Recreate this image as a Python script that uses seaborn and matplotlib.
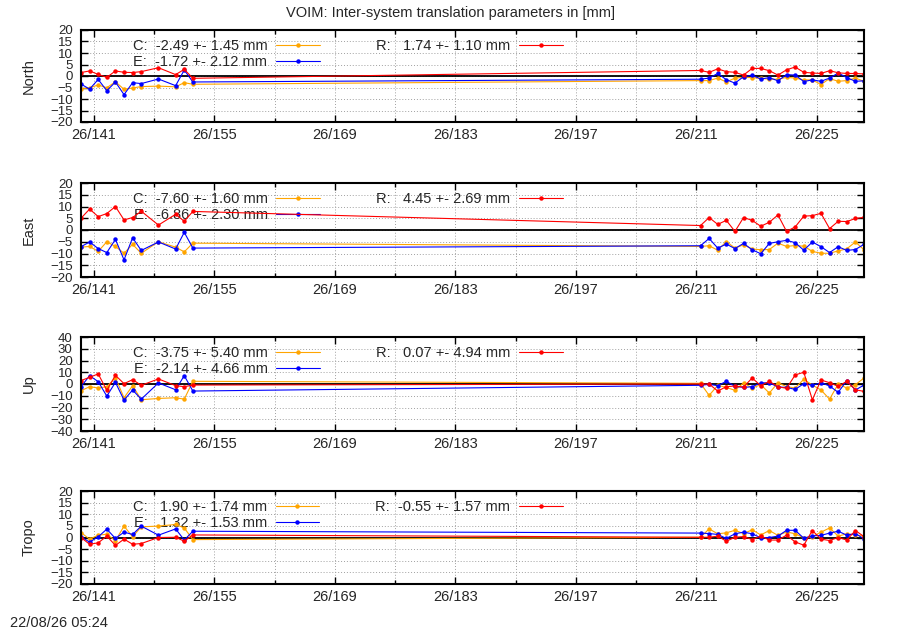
import numpy as np
import pandas as pd
import matplotlib
matplotlib.use("Agg")
import matplotlib.pyplot as plt
import seaborn as sns

# day of year (2026) of each solution
days = [139.5, 140.5, 141.5, 142.5, 143.5, 144.5, 145.5, 146.5, 148.5, 150.5, 151.5, 152.5,
        211.5, 212.5, 213.5, 214.5, 215.5, 216.5, 217.5, 218.5, 219.5, 220.5,
        221.5, 222.5, 223.5, 224.5, 225.5, 226.5, 227.5, 228.5, 229.5, 230.5]

north_c = [-5.7, -5.1, -3.9, -5.1, -2.5, -5.8, -5.2, -4.6, -4.4, -4.7, -2.9, -3.6,
           -2.0, -2.0, -0.9, -2.6, -0.9, -0.6, -0.7, -1.0, -1.4, -1.4,
           -0.6, -0.9, -1.7, -1.7, -3.7, -1.1, -2.3, -2.0, -0.9, -2.3]
north_e = [-3.5, -5.7, -1.5, -6.4, -2.6, -8.1, -2.9, -3.3, -1.3, -4.2, 2.6, -2.6,
           -1.4, -0.9, 1.1, -1.6, -3.1, -0.3, 0.3, -1.3, -0.7, -2.1,
           0.6, 0.4, -2.4, -1.7, -2.3, -0.9, 1.3, -0.7, -2.3, -2.1]
north_r = [1.5, 2.2, 0.7, -0.6, 2.2, 1.6, 1.5, 1.9, 3.6, 0.6, 2.9, -1.0,
           2.4, 1.6, 3.1, 1.9, 1.6, 0.4, 3.3, 3.3, 2.3, 0.4,
           2.7, 3.9, 1.6, 1.3, 1.1, 2.3, 1.4, 1.1, 1.1, 0.9]

east_c = [-7.3, -7.0, -9.1, -5.0, -7.0, -9.9, -6.1, -9.9, -5.0, -7.3, -9.3, -5.6,
          -7.0, -6.7, -8.6, -4.9, -7.7, -6.3, -8.1, -8.4, -8.3, -5.6,
          -7.0, -6.6, -6.9, -9.1, -9.9, -9.9, -8.9, -8.0, -5.1, -8.4]
east_e = [-7.1, -5.1, -7.9, -9.6, -4.0, -12.7, -3.3, -8.7, -5.1, -8.1, -1.0, -7.7,
          -6.7, -3.6, -7.7, -6.0, -7.9, -5.7, -8.4, -10.1, -5.7, -5.0,
          -4.4, -5.4, -8.6, -5.1, -7.1, -9.6, -7.1, -8.7, -8.3, -6.1]
east_r = [5.0, 8.9, 5.7, 7.0, 10.0, 4.3, 5.3, 8.0, 2.1, 6.7, 3.7, 7.9,
          1.9, 5.3, 2.4, 4.1, -0.6, 5.3, 4.1, 1.6, 3.3, 6.4,
          -0.6, 1.3, 5.9, 6.1, 7.1, 0.6, 3.7, 3.6, 4.9, 5.4]

up_c = [-5.7, -2.3, -3.4, -2.3, 5.4, -11.7, -1.4, -13.4, -12.3, -11.7, -12.9, 2.3,
        0.6, -9.7, -1.1, -2.9, -5.4, 0.9, -3.4, -0.6, -7.7, 1.1,
        -2.3, -3.4, 4.0, -0.9, -5.1, -12.9, 0.0, -3.4, -0.6, 5.1]
up_e = [-2.3, 7.1, 2.0, -10.3, 1.4, -13.7, -5.1, -12.9, 0.9, -4.9, 7.1, -6.0,
        -1.1, -0.3, -1.4, 2.3, -2.0, -2.9, -2.3, 0.9, 1.1, -2.6,
        -2.9, -4.6, 0.3, -1.1, 1.1, -1.7, -7.1, 2.9, -5.1, -0.9]
up_r = [2.9, 5.7, 8.6, -5.4, 7.4, 0.3, 3.7, -1.1, 4.3, -1.4, -2.3, -0.9,
        0.0, 0.0, -6.0, -2.3, -1.7, -2.6, 5.1, -1.4, 2.3, -2.3,
        -3.7, 7.7, 10.0, -13.4, 3.4, 1.1, -2.0, 2.3, -4.9, -6.3]

tropo_c = [2.1, -0.7, 1.0, 1.4, -1.4, 4.9, 0.3, 4.6, 4.9, 5.6, 4.1, -0.9,
           0.1, 3.7, 1.6, 2.0, 3.1, 1.7, 3.3, 1.1, 3.0, 0.9,
           2.4, 1.6, -0.1, 0.4, 2.3, 4.1, 0.6, 1.6, 1.1, 0.6]
tropo_e = [0.3, -2.0, 0.3, 3.6, -0.4, 2.3, 1.3, 4.9, 1.0, 3.7, -1.1, 2.7,
           1.9, 1.7, 1.3, -0.4, 1.6, 2.3, 1.6, -0.1, 0.0, 0.6,
           3.1, 3.1, -0.3, 0.7, 0.9, 1.9, 2.7, 1.0, 1.7, -0.6]
tropo_r = [0.0, -2.9, -2.3, 0.6, -3.4, -0.7, -2.9, -2.6, 0.0, 0.1, -1.6, 1.1,
           0.1, 0.1, 0.6, -1.6, 0.1, 0.4, -0.9, 0.6, -1.1, -1.1,
           1.0, -1.9, -3.3, 3.0, -0.7, -1.3, 0.0, -1.1, 3.0, 0.4]

panels = ["North", "East", "Up", "Tropo"]
systems = ["C", "E", "R"]
# mean and rms per panel, order C, E, R
means = {"North": [-2.49, -1.72, 1.74], "East": [-7.60, -6.86, 4.45],
         "Up": [-3.75, -2.14, 0.07], "Tropo": [1.90, 1.32, -0.55]}
sigmas = {"North": [1.45, 2.12, 1.10], "East": [1.60, 2.30, 2.69],
          "Up": [5.40, 4.66, 4.94], "Tropo": [1.74, 1.53, 1.57]}
values = {"North": [north_c, north_e, north_r], "East": [east_c, east_e, east_r],
          "Up": [up_c, up_e, up_r], "Tropo": [tropo_c, tropo_e, tropo_r]}
ylims = {"North": 20, "East": 20, "Up": 40, "Tropo": 20}
ysteps = {"North": 5, "East": 5, "Up": 10, "Tropo": 5}
colors = ["#FFA500", "#0000FF", "#FF0000"]

year = 26
major_days = list(range(141, 231, 14))
minor_days = list(range(148, 231, 14))

sns.set_style("ticks")
plt.rcParams["font.family"] = ["Liberation Sans", "DejaVu Sans"]
plt.rcParams["font.size"] = 10.5

fig = plt.figure(figsize=(9, 6.3), dpi=100)
fig.text(0.5, 0.979, "VOIM: Inter-system translation parameters in [mm]",
         ha="center", va="center", fontsize=10.5)
fig.text(0.011, 0.0, "22/08/26 05:24", ha="left", va="bottom", fontsize=10.5)

# axes boxes in pixels: top, bottom
boxes = [(30, 122), (183, 277), (337, 431), (491, 584)]
left_px, right_px = 81, 864

for name, (top, bot) in zip(panels, boxes):
    ax = fig.add_axes([left_px / 900, 1 - bot / 630, (right_px - left_px) / 900, (bot - top) / 630])
    df = pd.DataFrame({"day": days})
    for sysname, col, vals, m, s in zip(systems, colors, values[name], means[name], sigmas[name]):
        df[sysname] = vals
        sns.lineplot(data=df, x="day", y=sysname, color=col, marker="o", markersize=3.2,
                     markeredgewidth=0, linewidth=0.8, ax=ax,
                     label=f"{sysname}: {m:6.2f} +- {s:.2f} mm")
    lim = ylims[name]
    ax.set_xlim(139.5, 230.5)
    ax.set_ylim(-lim, lim)
    ax.axhline(0, color="black", linewidth=1.3, zorder=1.5)
    ax.set_xticks(major_days)
    ax.set_xticks(minor_days, minor=True)
    ax.set_xticklabels([f"{year}/{d}" for d in major_days])
    ax.set_yticks(np.arange(-lim, lim + 1, ysteps[name]))
    ax.grid(True, which="both", axis="x", color="#a0a0a0", linestyle=(0, (1, 2)), linewidth=0.7)
    ax.grid(True, which="major", axis="y", color="#a0a0a0", linestyle=(0, (1, 2)), linewidth=0.7)
    ax.tick_params(which="both", direction="in", top=True, right=True, width=1, color="black")
    ax.tick_params(which="major", length=5)
    ax.tick_params(which="minor", length=3)
    ax.tick_params(axis="x", pad=4, labelsize=10.5)
    ax.tick_params(axis="y", pad=6, labelsize=9.5)
    for sp in ax.spines.values():
        sp.set_linewidth(1.5)
        sp.set_color("black")
    ax.set_xlabel("")
    ax.set_ylabel(name, fontsize=10.5)
    ax.yaxis.set_label_coords(-0.058, 0.5)
    leg = ax.legend(loc="upper left", bbox_to_anchor=(0.066, 0.9), ncol=2, frameon=False,
                    markerfirst=False, handlelength=3.0, handletextpad=0.6,
                    columnspacing=3.85, labelspacing=0.1, borderaxespad=0, borderpad=0,
                    fontsize=10.5)
    leg.set_zorder(1)

fig.savefig("out.png", dpi=100)
